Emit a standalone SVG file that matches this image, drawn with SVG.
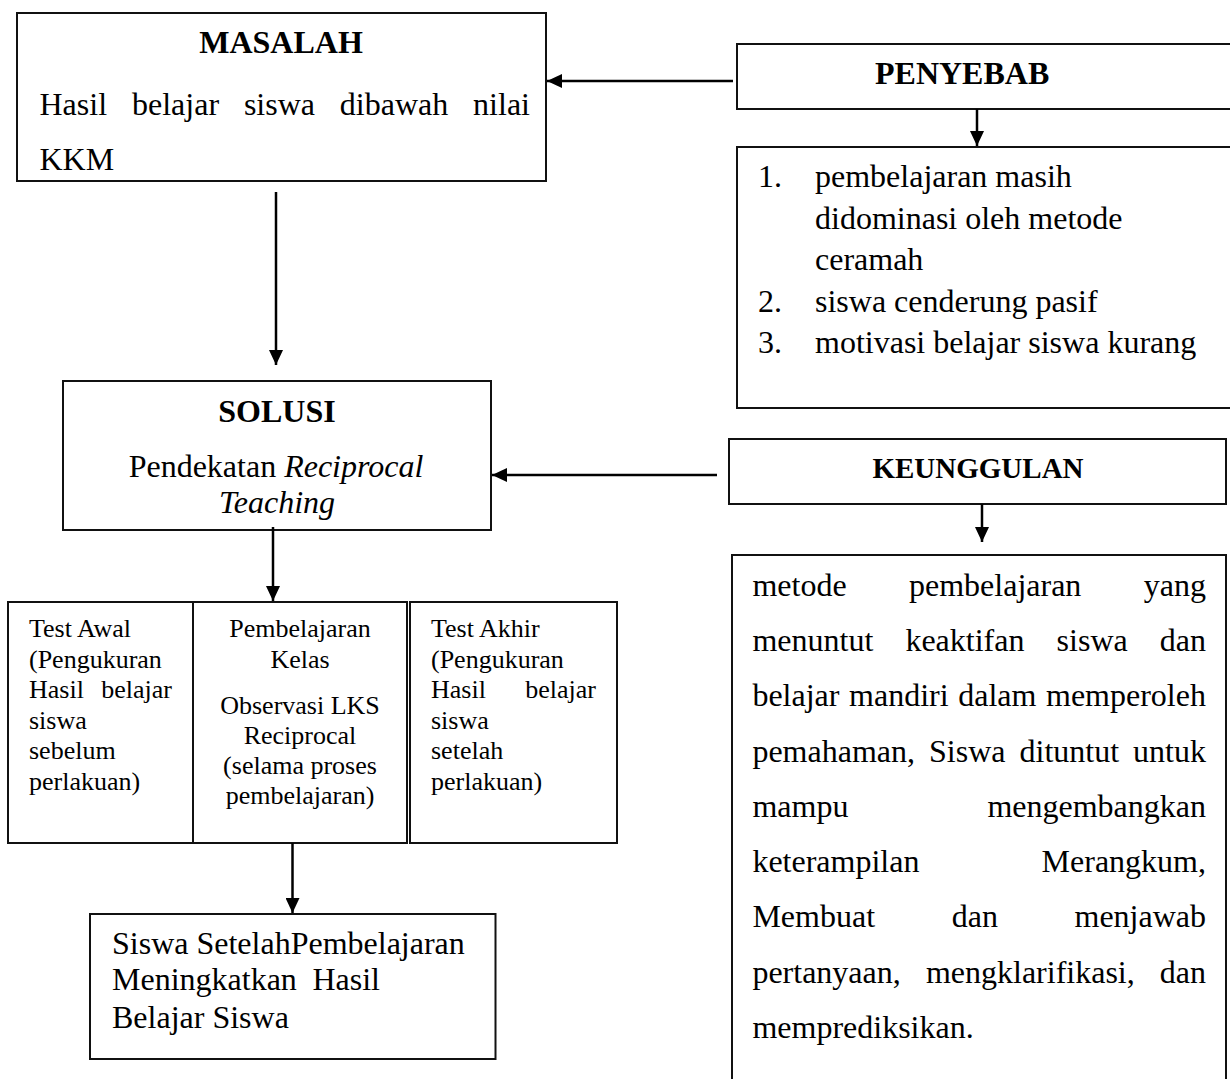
<svg xmlns="http://www.w3.org/2000/svg" width="1230" height="1079" viewBox="0 0 1230 1079">
<style>
.box{fill:#fff;stroke:#111;stroke-width:2}
.t{font-family:"Liberation Serif","Times New Roman",serif;font-size:32px;fill:#000}
.h{font-family:"Liberation Serif","Times New Roman",serif;font-size:32px;font-weight:bold;fill:#000}
.s{font-family:"Liberation Serif","Times New Roman",serif;font-size:26px;fill:#000}
.c{fill:none;stroke:#000;stroke-width:2.5;marker-end:url(#ah)}
.m{text-anchor:middle}
.e{text-anchor:end}
</style>
<defs>
<marker id="ah" markerUnits="userSpaceOnUse" markerWidth="15" markerHeight="14" refX="15" refY="7" orient="auto">
<path d="M0,0 L15,7 L0,14 z" fill="#000"/>
</marker>
</defs>
<rect width="1230" height="1079" fill="#fff"/>

<g id="masalah">
<rect class="box" x="17" y="13" width="529" height="168"/>
<text class="h m" x="281" y="53">MASALAH</text>
<text class="t" y="115"><tspan x="39.5">Hasil</tspan><tspan x="132">belajar</tspan><tspan x="243.9">siswa</tspan><tspan x="339.8">dibawah</tspan><tspan x="473.1">nilai</tspan></text>
<text class="t" x="39.5" y="170">KKM</text>
</g>

<g id="penyebab">
<rect class="box" x="737" y="44" width="500" height="65"/>
<text class="h" x="875" y="84">PENYEBAB</text>
</g>

<g id="penyebab-list">
<rect class="box" x="737" y="147" width="500" height="261"/>
<text class="t" x="758" y="187">1.</text>
<text class="t" x="815" y="187">pembelajaran masih</text>
<text class="t" x="815" y="228.5">didominasi oleh metode</text>
<text class="t" x="815" y="270">ceramah</text>
<text class="t" x="758" y="312">2.</text>
<text class="t" x="815" y="312">siswa cenderung pasif</text>
<text class="t" x="758" y="353">3.</text>
<text class="t" x="815" y="353">motivasi belajar siswa kurang</text>
</g>

<g id="solusi">
<rect class="box" x="63" y="381" width="428" height="149"/>
<text class="h m" x="277" y="422">SOLUSI</text>
<text class="t m" x="276" y="477">Pendekatan <tspan font-style="italic">Reciprocal</tspan></text>
<text class="t m" x="277" y="513" font-style="italic">Teaching</text>
</g>

<g id="keunggulan">
<rect class="box" x="729" y="439" width="497" height="65"/>
<text class="h m" x="978" y="478" style="font-size:29px">KEUNGGULAN</text>
</g>

<g id="keunggulan-text">
<rect class="box" x="732" y="555" width="494" height="540"/>
<text class="t" y="596"><tspan x="752.4">metode</tspan><tspan x="909">pembelajaran</tspan><tspan x="1143.8">yang</tspan></text>
<text class="t" y="651"><tspan x="752.4">menuntut</tspan><tspan x="905.4">keaktifan</tspan><tspan x="1056.6">siswa</tspan><tspan x="1159.8">dan</tspan></text>
<text class="t" y="706"><tspan x="752.4">belajar</tspan><tspan x="849.1">mandiri</tspan><tspan x="958.2">dalam</tspan><tspan x="1046">memperoleh</tspan></text>
<text class="t" y="762"><tspan x="752.4">pemahaman,</tspan><tspan x="929">Siswa</tspan><tspan x="1019.5">dituntut</tspan><tspan x="1133.1">untuk</tspan></text>
<text class="t" x="752.4" y="817">mampu</text>
<text class="t e" x="1206" y="817">mengembangkan</text>
<text class="t" x="752.4" y="872">keterampilan</text>
<text class="t e" x="1206" y="872">Merangkum,</text>
<text class="t" y="927"><tspan x="752.4">Membuat</tspan><tspan x="951.7">dan</tspan></text>
<text class="t e" x="1206" y="927">menjawab</text>
<text class="t" y="983"><tspan x="752.4">pertanyaan,</tspan><tspan x="925.9">mengklarifikasi,</tspan></text>
<text class="t e" x="1206" y="983">dan</text>
<text class="t" x="752.4" y="1038">memprediksikan.</text>
</g>

<g id="test-awal">
<rect class="box" x="8" y="602" width="185" height="241"/>
<text class="s" x="29" y="637">Test Awal</text>
<text class="s" x="29" y="667.5">(Pengukuran</text>
<text class="s" x="29" y="698">Hasil</text>
<text class="s e" x="172" y="698">belajar</text>
<text class="s" x="29" y="728.5">siswa</text>
<text class="s" x="29" y="759">sebelum</text>
<text class="s" x="29" y="790">perlakuan)</text>
</g>

<g id="pembelajaran-kelas">
<rect class="box" x="193" y="602" width="214" height="241"/>
<text class="s m" x="300" y="637">Pembelajaran</text>
<text class="s m" x="300" y="667.5">Kelas</text>
<text class="s m" x="300" y="714">Observasi LKS</text>
<text class="s m" x="300" y="744">Reciprocal</text>
<text class="s m" x="300" y="773.5">(selama proses</text>
<text class="s m" x="300" y="803.5">pembelajaran)</text>
</g>

<g id="test-akhir">
<rect class="box" x="410" y="602" width="207" height="241"/>
<text class="s" x="431" y="637">Test Akhir</text>
<text class="s" x="431" y="667.5">(Pengukuran</text>
<text class="s" x="431" y="698">Hasil</text>
<text class="s e" x="596" y="698">belajar</text>
<text class="s" x="431" y="728.5">siswa</text>
<text class="s" x="431" y="759">setelah</text>
<text class="s" x="431" y="790">perlakuan)</text>
</g>

<g id="hasil">
<rect class="box" x="90" y="914" width="405.5" height="145"/>
<text class="t" x="112" y="954">Siswa SetelahPembelajaran</text>
<text class="t" y="990"><tspan x="112">Meningkatkan</tspan><tspan x="312.4">Hasil</tspan></text>
<text class="t" x="112" y="1028">Belajar Siswa</text>
</g>

<g id="connectors">
<path class="c" d="M733,81 L547,81"/>
<path class="c" d="M977,109 L977,146"/>
<path class="c" d="M276,192 L276,365"/>
<path class="c" d="M717,475 L492,475"/>
<path class="c" d="M982,504 L982,542"/>
<path class="c" d="M273,527 L273,601"/>
<path class="c" d="M292.5,843 L292.5,913"/>
</g>
</svg>
